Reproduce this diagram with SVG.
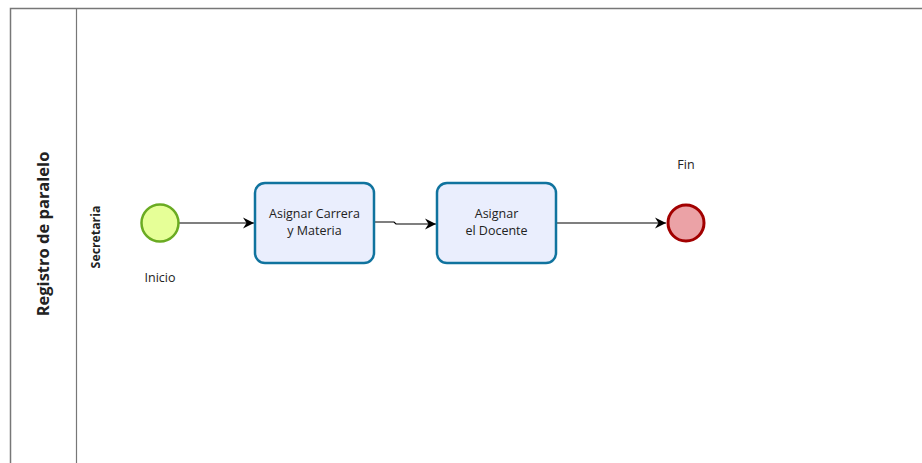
<svg xmlns="http://www.w3.org/2000/svg" width="922" height="463" viewBox="0 0 922 463">
<defs>
<marker id="arr" markerWidth="14" markerHeight="14" refX="12" refY="7" orient="auto" markerUnits="userSpaceOnUse">
<path d="M1,1.5 L12,7 L1,12.5 L4.5,7 Z" fill="#000"/>
</marker>
<style>
text{font-family:"Open Sans","Noto Sans","Liberation Sans",sans-serif;fill:#222;}
.lbl{font-size:12.5px;text-anchor:middle;}
.task{fill:#eaeefd;stroke:#10739e;stroke-width:2.5;}
.edge{fill:none;stroke:#000;stroke-width:1.2;marker-end:url(#arr);}
</style>
</defs>
<rect width="922" height="463" fill="#fff"/>
<g id="pool">
<path d="M10.5,463 V8.5 H922" fill="none" stroke="#777" stroke-width="1.5"/>
<line x1="76.5" y1="8.5" x2="76.5" y2="463" stroke="#777" stroke-width="1.2"/>
<text transform="translate(49,234) rotate(-90)" text-anchor="middle" font-size="16.5" font-weight="bold" fill="#111">Registro de paralelo</text>
</g>
<g id="lane">
<text transform="translate(100,237) rotate(-90)" text-anchor="middle" font-size="12.3" font-weight="bold" fill="#111">Secretaria</text>
</g>
<g id="connectors">
<path class="edge" d="M179,223 H254"/>
<path class="edge" d="M374,222 H394 L396,224 H436"/>
<path class="edge" d="M556,223 H666"/>
</g>
<g id="start">
<circle cx="160" cy="223" r="18.5" fill="#e6ff97" stroke="#6aab22" stroke-width="2.5"/>
<text class="lbl" x="160" y="282">Inicio</text>
</g>
<g id="task1">
<rect class="task" x="255" y="183" width="119" height="80" rx="10"/>
<text class="lbl" x="314.5" y="218">Asignar Carrera</text>
<text class="lbl" x="314.5" y="235">y Materia</text>
</g>
<g id="task2">
<rect class="task" x="437" y="183" width="119" height="80" rx="10"/>
<text class="lbl" x="496.5" y="218">Asignar</text>
<text class="lbl" x="496.5" y="235">el Docente</text>
</g>
<g id="end">
<circle cx="686" cy="223" r="18" fill="#eba2a6" stroke="#a20000" stroke-width="3"/>
<text class="lbl" x="686" y="169">Fin</text>
</g>
</svg>
